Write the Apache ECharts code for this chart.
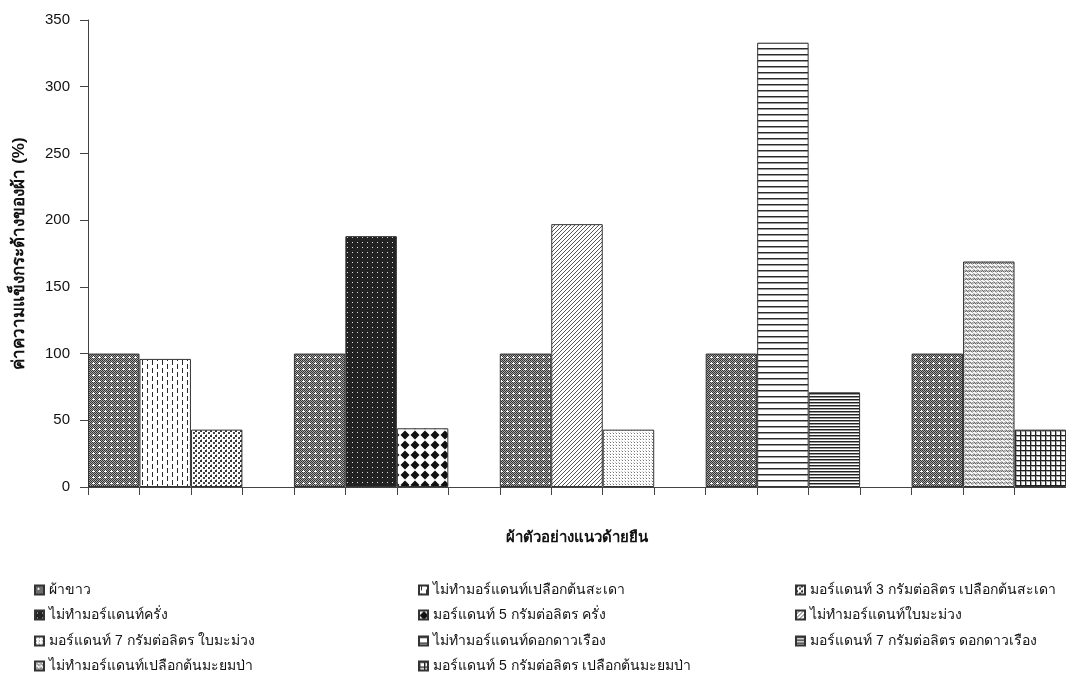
<!DOCTYPE html>
<html>
<head>
<meta charset="utf-8">
<script src="https://cdn.jsdelivr.net/npm/echarts@6/dist/echarts.min.js"></script>
<style>html,body{margin:0;padding:0;background:#fff}#c{width:1066px;height:695px}</style>
</head>
<body>
<div id="c"></div>
<script>
// ---- data ----
const seriesNames = [
  'ผ้าขาว',
  'ไม่ทำมอร์แดนท์เปลือกต้นสะเดา',
  'มอร์แดนท์ 3 กรัมต่อลิตร เปลือกต้นสะเดา',
  'ไม่ทำมอร์แดนท์ครั่ง',
  'มอร์แดนท์ 5 กรัมต่อลิตร ครั่ง',
  'ไม่ทำมอร์แดนท์ใบมะม่วง',
  'มอร์แดนท์ 7 กรัมต่อลิตร ใบมะม่วง',
  'ไม่ทำมอร์แดนท์ดอกดาวเรือง',
  'มอร์แดนท์ 7 กรัมต่อลิตร ดอกดาวเรือง',
  'ไม่ทำมอร์แดนท์เปลือกต้นมะยมป่า',
  'มอร์แดนท์ 5 กรัมต่อลิตร เปลือกต้นมะยมป่า'
];
// five sample groups, each: white fabric, no-mordant dyed, mordant dyed
const whiteValues     = [100, 100, 100, 100, 100];
const noMordantValues = [96, 188, 197, 333, 169];
const mordantValues   = [43, 44, 43, 71, 43];
const noMordantSeries = [1, 3, 5, 7, 9];
const mordantSeries   = [2, 4, 6, 8, 10];
const yTicks = [0, 50, 100, 150, 200, 250, 300, 350];
const yTitle = 'ค่าความแข็งกระด้างของผ้า (%)';
const xTitle = 'ผ้าตัวอย่างแนวด้ายยืน';

// ---- patterns ----
function tile(w, h, draw, bg) {
  const c = document.createElement('canvas');
  c.width = w; c.height = h;
  const g = c.getContext('2d');
  g.fillStyle = bg || '#fff'; g.fillRect(0, 0, w, h);
  draw(g, w, h);
  return { image: c, repeat: 'repeat' };
}
function px(g, x, y, col, w, h) { g.fillStyle = col; g.fillRect(x, y, w || 1, h || 1); }

const patterns = [
  // ผ้าขาว: fine dark checker with white plus marks
  tile(6, 6, (g) => {
    for (let y = 0; y < 6; y++) for (let x = 0; x < 6; x++) px(g, x, y, (x + y) % 2 ? '#a8a8a8' : '#333');
    px(g, 3, 2, '#fff'); px(g, 2, 3, '#fff'); px(g, 3, 3, '#fff'); px(g, 4, 3, '#fff');
  }),
  // vertical dashes
  tile(10, 16, (g) => {
    px(g, 2, 0, '#2a2a2a', 1, 5); px(g, 2, 8, '#2a2a2a', 1, 5);
    px(g, 7, 4, '#2a2a2a', 1, 5); px(g, 7, 12, '#2a2a2a', 1, 4); px(g, 7, 0, '#2a2a2a', 1, 1);
  }),
  // staggered small squares (dense)
  tile(5, 5, (g) => {
    px(g, 0, 0, '#333', 2, 2); px(g, 3, 2, '#444', 2, 2); px(g, 1, 4, '#999', 1, 1);
  }),
  // black with white dots
  tile(5, 5, (g) => { px(g, 2, 2, '#e0e0e0'); }, '#222'),
  // black diamonds
  tile(10, 10, (g) => {
    g.fillStyle = '#111'; g.beginPath();
    g.moveTo(5, 0.5); g.lineTo(9.5, 5); g.lineTo(5, 9.5); g.lineTo(0.5, 5); g.closePath(); g.fill();
  }),
  // diagonal lines
  tile(4, 4, (g) => {
    px(g, 3, 0, '#555'); px(g, 2, 1, '#555'); px(g, 1, 2, '#555'); px(g, 0, 3, '#555');
  }),
  // light stipple
  tile(3, 3, (g) => { px(g, 1, 1, '#777'); px(g, 0, 0, '#cfcfcf'); }),
  // horizontal lines wide
  tile(2, 6, (g) => { px(g, 0, 0, '#2a2a2a', 2, 1); px(g, 0, 1, '#999', 2, 1); }),
  // horizontal lines dense
  tile(2, 3, (g) => { px(g, 0, 0, '#222', 2, 1); px(g, 0, 1, '#999', 2, 1); }),
  // zig-zag weave
  tile(8, 8, (g) => {
    for (let y = 0; y < 8; y++) for (let x = 0; x < 8; x++) px(g, x, y, (x + y) % 2 ? '#c0c0c0' : '#666');
    g.strokeStyle = '#fff'; g.lineWidth = 1.4; g.beginPath();
    g.moveTo(0, 2); g.lineTo(2, 0); g.lineTo(4, 2); g.lineTo(6, 0); g.lineTo(8, 2);
    g.moveTo(0, 6); g.lineTo(2, 4); g.lineTo(4, 6); g.lineTo(6, 4); g.lineTo(8, 6);
    g.stroke();
  }),
  // grid
  tile(5, 5, (g) => { px(g, 0, 0, '#222', 1, 5); px(g, 0, 0, '#222', 5, 1); px(g, 1, 1, '#aaa', 1, 4); px(g, 1, 1, '#aaa', 4, 1); })
];

// ---- build slots: 5 groups x 3 bars + 4 gaps = 19 categories ----
const nSlots = whiteValues.length * 4 - 1;
const categories = Array.from({ length: nSlots }, () => '');
const seriesData = seriesNames.map(() => Array(nSlots).fill('-'));
whiteValues.forEach((v, i) => { seriesData[0][i * 4] = v; });
noMordantValues.forEach((v, i) => { seriesData[noMordantSeries[i]][i * 4 + 1] = v; });
mordantValues.forEach((v, i) => { seriesData[mordantSeries[i]][i * 4 + 2] = v; });

const FONT = 'Arial, "Liberation Sans", sans-serif';

const series = seriesNames.map((name, k) => ({
  name, type: 'bar', stack: 'all', barWidth: '100%', data: seriesData[k],
  itemStyle: { color: patterns[k], borderColor: '#333', borderWidth: 1 },
  emphasis: { disabled: true }, animation: false
}));

// legend: 3 columns, row-major order
const colX = [34, 418, 795];
const rowY = [591, 616, 642, 667];
const legends = seriesNames.map((name, k) => ({
  data: [name], left: colX[k % 3], top: rowY[Math.floor(k / 3)] - 8, padding: 0,
  icon: 'rect', itemWidth: 9, itemHeight: 9, selectedMode: false,
  textStyle: { fontFamily: FONT, fontSize: 14, color: '#111' }
}));

const chart = echarts.init(document.getElementById('c'), null, { renderer: 'canvas' });
chart.setOption({
  backgroundColor: '#fff',
  animation: false,
  grid: { left: 88, right: -6, top: 20, bottom: 208 },
  legend: legends,
  xAxis: {
    type: 'category', data: categories, boundaryGap: true,
    name: xTitle, nameLocation: 'middle', nameGap: 43,
    nameTextStyle: { fontFamily: FONT, fontSize: 15, fontWeight: 'bold', color: '#111' },
    axisLine: { lineStyle: { color: '#444' } },
    axisTick: { show: true, interval: 0, length: 8, lineStyle: { color: '#444' } },
    axisLabel: { show: false }
  },
  yAxis: {
    type: 'value', min: yTicks[0], max: yTicks[yTicks.length - 1], interval: yTicks[1] - yTicks[0],
    name: yTitle, nameLocation: 'middle', nameGap: 60,
    nameTextStyle: { fontFamily: FONT, fontSize: 17, fontWeight: 'bold', color: '#111' },
    axisLine: { show: true, lineStyle: { color: '#444' } },
    axisTick: { show: true, length: 8, lineStyle: { color: '#444' } },
    axisLabel: { fontFamily: FONT, fontSize: 15, color: '#111', margin: 18 },
    splitLine: { show: false }
  },
  series
});
</script>
</body>
</html>
